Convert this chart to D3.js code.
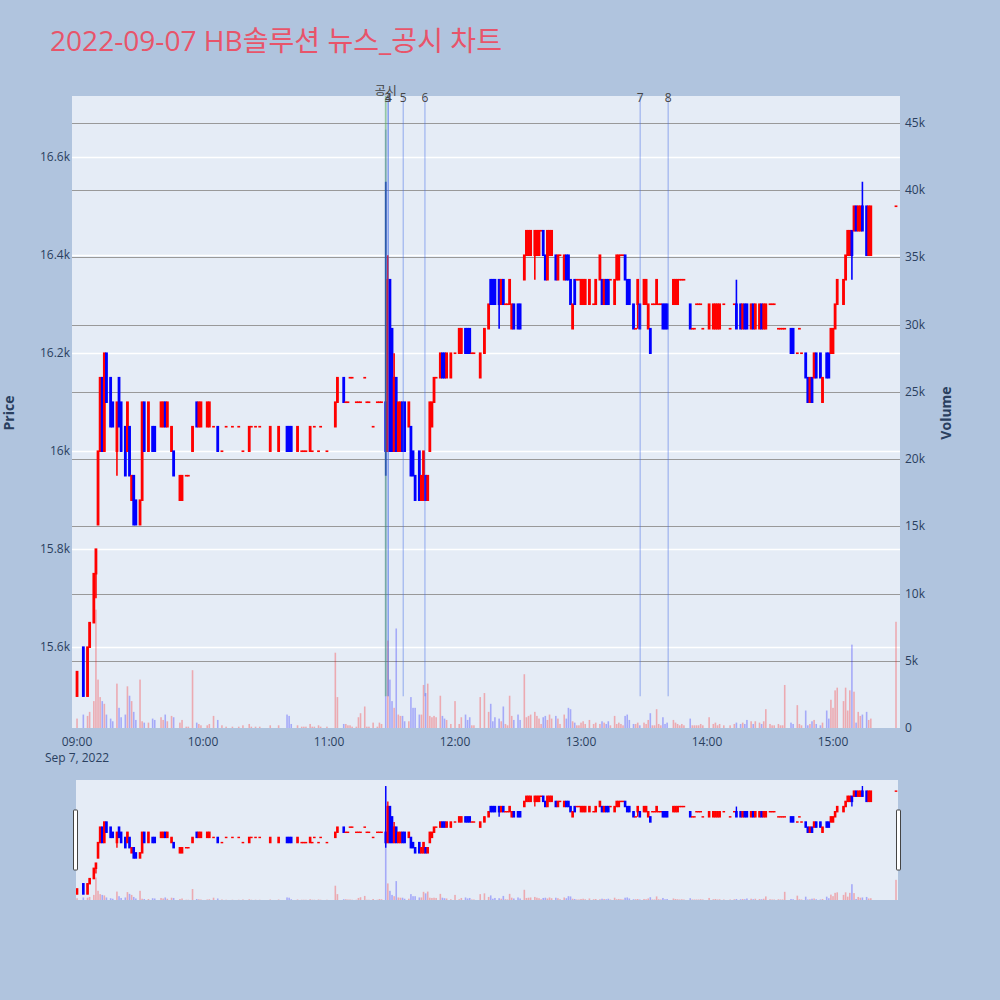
<!DOCTYPE html>
<html><head><meta charset="utf-8">
<script src="https://cdn.jsdelivr.net/npm/d3@7"></script>
<style>
html,body{margin:0;padding:0;background:#b0c4de;}
svg{display:block;font-family:"Open Sans","Noto Sans CJK KR",sans-serif;}
</style></head>
<body><svg id="c" width="1000" height="1000"></svg>
<script>
// ---------- DATA ----------
const titleText = "2022-09-07 HB솔루션 뉴스_공시 차트";
const times = ["09:00","09:03","09:05","09:06","09:08","09:09","09:10","09:11","09:12","09:13","09:14","09:16","09:17","09:19","09:20","09:21","09:23","09:24","09:25","09:26","09:27","09:28","09:30","09:31","09:32","09:34","09:36","09:37","09:40","09:41","09:42","09:43","09:45","09:46","09:49","09:50","09:52","09:53","09:55","09:57","09:58","09:59",
"10:02","10:03","10:05","10:07","10:09","10:11","10:14","10:17","10:19","10:22","10:23","10:25","10:27","10:32","10:36","10:40","10:41","10:42","10:45","10:47","10:48","10:49","10:51","10:52","10:53","10:55","10:56","10:59",
"11:03","11:04","11:07","11:08","11:09","11:10","11:11","11:13","11:14","11:15","11:17","11:18","11:19","11:21","11:23","11:24","11:25","11:27","11:28","11:29","11:30","11:31","11:32","11:33","11:34","11:35","11:36","11:38","11:39","11:40","11:41","11:43","11:44","11:45","11:46","11:47","11:48","11:49","11:50","11:51","11:53","11:54","11:55","11:56","11:58",
"12:00","12:02","12:03","12:05","12:06","12:07","12:08","12:09","12:12","12:14","12:16","12:17","12:18","12:19","12:21","12:22","12:23","12:24","12:25","12:26","12:27","12:28","12:30","12:31","12:33","12:34","12:35","12:36","12:38","12:39","12:40","12:41","12:42","12:43","12:44","12:45","12:46","12:48","12:49","12:50","12:52","12:53","12:54","12:55","12:56","12:57","12:58","12:59",
"13:00","13:01","13:02","13:04","13:06","13:07","13:09","13:10","13:11","13:12","13:13","13:14","13:16","13:17","13:18","13:19","13:20","13:21","13:22","13:23","13:25","13:26","13:27","13:28","13:30","13:31","13:32","13:33","13:34","13:35","13:36","13:37","13:38","13:39","13:40","13:41","13:44","13:45","13:46","13:47","13:48","13:49","13:52","13:53","13:54","13:55","13:56","13:57","13:58",
"14:01","14:03","14:04","14:05","14:06","14:08","14:11","14:13","14:14","14:16","14:17","14:18","14:19","14:21","14:22","14:23","14:25","14:26","14:27","14:28","14:30","14:31","14:32","14:34","14:35","14:36","14:37","14:40","14:41","14:43","14:44","14:45","14:47","14:48","14:49","14:50","14:51","14:52","14:54","14:55","14:57","14:58","14:59",
"15:00","15:01","15:02","15:05","15:06","15:07","15:08","15:09","15:10","15:11","15:12","15:13","15:14","15:16","15:17","15:18","15:30"];
const opens = [15500,15600,15500,15600,15650,15750,15850,16000,16150,16000,16200,16150,16100,16000,16150,16100,16050,16000,16050,15900,15950,15900,15850,15900,16100,16000,16050,16050,16050,16050,16100,16050,16000,16000,15900,15900,15950,15950,16000,16100,16050,16050,
16050,16050,16050,16050,16000,16050,16050,16050,16000,16000,16050,16050,16050,16000,16000,16050,16050,16050,16000,16000,16000,16000,16000,16000,16050,16000,16050,16000,
16050,16100,16150,16100,16100,16150,16150,16100,16100,16100,16150,16100,16100,16050,16100,16100,16100,16100,16000,16350,16250,16000,16150,16000,16000,16100,16100,16050,16050,16000,15950,16000,15900,15900,15950,15900,16000,16050,16100,16150,16150,16200,16200,16150,16150,
16200,16200,16200,16250,16250,16250,16200,16200,16150,16200,16250,16350,16350,16350,16350,16300,16350,16300,16300,16300,16250,16300,16300,16300,16350,16400,16400,16400,16400,16400,16400,16450,16450,16400,16350,16400,16400,16400,16350,16400,16350,16400,16400,16350,16250,16350,16350,16350,
16300,16300,16300,16300,16300,16300,16350,16350,16300,16350,16350,16350,16300,16350,16350,16400,16400,16400,16350,16350,16300,16250,16300,16300,16300,16300,16250,16250,16300,16300,16300,16300,16300,16300,16300,16300,16300,16300,16300,16350,16350,16350,16300,16250,16250,16300,16300,16300,16250,
16250,16250,16250,16250,16250,16300,16250,16300,16300,16300,16250,16300,16300,16250,16300,16250,16250,16300,16250,16250,16300,16300,16300,16250,16250,16250,16250,16250,16250,16200,16250,16200,16200,16150,16100,16150,16150,16200,16200,16100,16200,16200,16200,
16200,16250,16300,16300,16350,16400,16400,16450,16450,16500,16450,16450,16500,16500,16400,16400,16500];
const highs = [15550,15600,15600,15650,15750,15800,16000,16150,16150,16200,16200,16150,16100,16100,16150,16100,16050,16100,16050,15950,15950,15900,15900,16100,16100,16100,16050,16050,16100,16100,16100,16100,16050,16000,15950,15950,15950,15950,16050,16100,16100,16100,
16100,16100,16050,16050,16000,16050,16050,16050,16000,16050,16050,16050,16050,16050,16050,16050,16050,16050,16050,16000,16000,16000,16050,16000,16050,16000,16050,16000,
16100,16150,16150,16100,16100,16150,16150,16100,16100,16100,16150,16100,16100,16050,16100,16100,16100,16550,16400,16350,16250,16200,16150,16100,16100,16100,16100,16100,16050,16000,15950,16000,15950,16000,15950,15950,16100,16100,16150,16150,16200,16200,16200,16200,16200,
16200,16250,16250,16250,16250,16250,16200,16200,16200,16250,16300,16350,16350,16350,16350,16350,16350,16300,16300,16350,16300,16300,16300,16300,16400,16450,16450,16450,16450,16450,16450,16450,16450,16400,16450,16450,16450,16400,16400,16400,16400,16400,16400,16350,16300,16350,16350,16350,
16350,16350,16350,16350,16300,16350,16400,16350,16350,16350,16350,16350,16350,16400,16400,16400,16400,16400,16350,16350,16300,16250,16350,16300,16350,16350,16300,16250,16300,16300,16350,16300,16300,16300,16300,16300,16350,16350,16350,16350,16350,16350,16300,16250,16250,16300,16300,16300,16250,
16300,16300,16300,16300,16300,16300,16250,16300,16350,16300,16300,16300,16300,16300,16300,16300,16300,16300,16300,16300,16300,16300,16300,16250,16250,16250,16250,16250,16250,16200,16250,16200,16200,16150,16150,16150,16200,16200,16200,16150,16200,16200,16250,
16250,16300,16350,16350,16400,16450,16450,16450,16500,16500,16500,16500,16550,16500,16500,16500,16500];
const lows = [15500,15500,15500,15600,15650,15700,15850,16000,16000,16000,16100,16050,16050,15950,16050,16000,15950,16000,15950,15900,15850,15850,15850,15900,16000,16000,16000,16000,16050,16050,16050,16050,16000,15950,15900,15900,15950,15950,16000,16050,16050,16050,
16050,16050,16050,16000,16000,16050,16050,16050,16000,16000,16050,16050,16050,16000,16000,16000,16000,16000,16000,16000,16000,16000,16000,16000,16050,16000,16050,16000,
16050,16100,16100,16100,16100,16150,16150,16100,16100,16100,16150,16100,16100,16050,16100,16100,16100,15950,16000,16000,16000,16000,16000,16000,16000,16000,16000,16050,15950,15950,15900,15900,15900,15900,15900,15900,16000,16050,16100,16150,16150,16150,16150,16150,16150,
16200,16200,16200,16200,16200,16200,16200,16200,16150,16200,16250,16300,16300,16300,16250,16300,16300,16300,16300,16300,16250,16250,16250,16250,16350,16400,16400,16400,16350,16400,16400,16450,16400,16350,16350,16400,16400,16350,16350,16400,16350,16350,16350,16300,16250,16300,16350,16350,
16300,16300,16300,16300,16300,16300,16350,16300,16300,16300,16300,16350,16300,16350,16350,16400,16400,16350,16300,16300,16250,16250,16250,16250,16300,16300,16250,16200,16300,16300,16300,16300,16300,16250,16250,16250,16300,16300,16300,16350,16350,16350,16250,16250,16250,16300,16300,16300,16250,
16250,16250,16250,16250,16250,16300,16250,16300,16250,16250,16250,16250,16250,16250,16250,16250,16250,16250,16250,16250,16300,16300,16300,16250,16250,16250,16250,16200,16200,16200,16250,16200,16150,16100,16100,16100,16150,16150,16150,16100,16150,16150,16200,
16200,16250,16300,16300,16350,16400,16400,16350,16450,16450,16450,16450,16450,16400,16400,16400,16500];
const closes = [15550,15500,15600,15650,15750,15800,16000,16150,16000,16200,16100,16050,16050,16100,16050,16000,15950,16100,15950,15950,15850,15850,15900,16100,16000,16100,16000,16000,16100,16100,16050,16100,16050,15950,15950,15950,15950,15950,16050,16050,16100,16100,
16100,16100,16050,16000,16000,16050,16050,16050,16000,16050,16050,16050,16050,16050,16050,16000,16000,16000,16050,16000,16000,16000,16050,16000,16050,16000,16050,16000,
16100,16150,16100,16100,16100,16150,16150,16100,16100,16100,16150,16100,16100,16050,16100,16100,16100,16000,16350,16000,16000,16150,16000,16100,16100,16000,16000,16100,15950,15950,15900,15900,15950,16000,15900,15950,16100,16100,16150,16150,16200,16150,16150,16200,16200,
16200,16250,16250,16200,16200,16200,16200,16200,16200,16250,16300,16300,16300,16300,16300,16350,16300,16300,16300,16350,16300,16250,16250,16250,16400,16450,16450,16450,16450,16450,16450,16450,16400,16350,16450,16450,16450,16350,16400,16400,16400,16350,16350,16300,16300,16300,16350,16350,
16350,16350,16350,16350,16300,16350,16400,16300,16350,16300,16300,16350,16350,16400,16400,16400,16400,16350,16300,16300,16250,16250,16350,16250,16350,16350,16300,16200,16300,16300,16350,16300,16300,16250,16250,16250,16350,16350,16350,16350,16350,16350,16250,16250,16250,16300,16300,16300,16250,
16300,16300,16300,16300,16300,16300,16250,16300,16250,16250,16300,16250,16250,16300,16250,16300,16300,16250,16300,16300,16300,16300,16300,16250,16250,16250,16250,16200,16200,16200,16250,16200,16150,16100,16150,16100,16200,16150,16150,16150,16150,16150,16250,
16250,16300,16350,16350,16400,16450,16450,16400,16500,16450,16500,16500,16450,16400,16500,16500,16500];
const volumes = [700,1000,900,1200,2000,8800,3600,2300,2000,1800,1000,700,500,3300,1500,800,1000,3100,2400,2000,1200,600,3600,500,400,400,700,600,800,600,1000,500,900,800,400,600,100,100,4300,400,300,200,
200,300,900,600,200,100,100,100,200,300,100,100,100,200,200,1000,900,300,200,100,100,100,300,100,100,200,100,100,
5600,2300,300,300,200,200,100,100,800,1100,1600,100,100,400,100,400,300,44500,6500,3600,2000,1500,7400,1000,900,900,500,500,2300,1500,1500,1000,1000,3200,2600,3300,900,800,900,800,2400,900,700,600,300,
2000,300,800,1000,600,800,200,200,2300,2600,1200,1800,500,800,700,500,1600,300,200,2400,900,600,1000,600,4000,800,900,1000,1200,900,700,300,800,900,600,1000,700,900,700,300,1000,700,1500,1400,500,400,200,200,
400,500,300,600,300,400,300,500,400,300,500,200,900,300,400,300,200,900,1000,600,300,300,400,200,400,300,600,1100,200,200,1400,300,200,800,300,400,600,400,300,200,300,200,700,200,200,200,200,300,200,
800,300,400,200,300,200,200,300,400,300,400,300,600,500,300,500,400,300,500,1400,300,200,200,300,200,200,3200,400,300,1700,300,200,1300,200,300,500,600,300,200,400,1300,700,2100,
1500,2800,3000,2000,3000,1300,2800,6200,2700,400,1200,900,1000,1200,600,700,7900];

const priceTicks = [15600,15800,16000,16200,16400,16600];
const volumeTicks = [0,5000,10000,15000,20000,25000,30000,35000,40000,45000];
const newsLabels = ["공시","4","3","5","6","7","8"];
const newsTimes = ["11:27:00","11:28:15","11:28:05","11:35:20","11:45:40","13:28:10","13:41:30"];

// ---------- BUILD ----------
function toDate(s){const p=s.split(":").map(Number);return new Date(2022,8,7,p[0],p[1],p[2]||0);}
const rows = times.map((t,i)=>({t:toDate(t),o:opens[i],h:highs[i],l:lows[i],c:closes[i],v:volumes[i]}));

const svg = d3.select("#c");
const W=1000,H=1000;
svg.append("rect").attr("width",W).attr("height",H).attr("fill","#b0c4de");

const L=72,R=900,T=96,B=728;
const x = d3.scaleTime().domain([new Date(2022,8,7,8,57,36), new Date(2022,8,7,15,31,54)]).range([L,R]);
const yP = d3.scaleLinear().domain([15435,16725]).range([B,T]);
const yV = d3.scaleLinear().domain([0,47000]).range([B,T]);
const txt="#2a3f5f";
const INC="#ff0000", DEC="#0000ff";

// title
svg.append("text").attr("x",50).attr("y",51).attr("font-size",28).attr("fill","#e8546a")
  .attr("textLength",452).attr("lengthAdjust","spacingAndGlyphs")
  .attr("font-family","'Open Sans','Noto Sans CJK KR',sans-serif").text(titleText);

// plot bg
svg.append("rect").attr("x",L).attr("y",T).attr("width",R-L).attr("height",B-T).attr("fill","#e5ecf6");

// grid
const g = svg.append("g");
g.selectAll(".gp").data(priceTicks).join("line").attr("x1",L).attr("x2",R)
  .attr("y1",d=>Math.round(yP(d))+0.5).attr("y2",d=>Math.round(yP(d))+0.5).attr("stroke","#fff").attr("stroke-width",1.5);
g.selectAll(".gv").data(volumeTicks.slice(1)).join("line").attr("x1",L).attr("x2",R)
  .attr("y1",d=>Math.round(yV(d))+0.5).attr("y2",d=>Math.round(yV(d))+0.5).attr("stroke","#999").attr("stroke-width",1.2);

const clipId="clipMain";
svg.append("clipPath").attr("id",clipId).append("rect").attr("x",L).attr("y",T).attr("width",R-L).attr("height",B-T);
const plot = svg.append("g").attr("clip-path",`url(#${clipId})`);

function drawCandles(gr, xs, ys, yv, bw){
  gr.selectAll(".vb").data(rows).join("rect")
    .attr("x",d=>xs(d.t)-0.8).attr("width",1.6)
    .attr("y",d=>yv(d.v)).attr("height",d=>yv(0)-yv(d.v))
    .attr("fill",d=>d.c>=d.o?INC:DEC).attr("opacity",0.28);
  const cg = gr.selectAll(".cd").data(rows).join("g");
  cg.append("line").attr("x1",d=>xs(d.t)).attr("x2",d=>xs(d.t))
    .attr("y1",d=>ys(d.h)).attr("y2",d=>ys(d.l))
    .attr("stroke",d=>d.c>=d.o?INC:DEC).attr("stroke-width",bw.w);
  cg.append("rect").attr("x",d=>xs(d.t)-bw.b/2).attr("width",bw.b)
    .attr("y",d=>ys(Math.max(d.o,d.c))).attr("height",d=>Math.max(0.05,ys(Math.min(d.o,d.c))-ys(Math.max(d.o,d.c))))
    .attr("fill",d=>d.c>=d.o?INC:DEC)
    .attr("stroke",d=>d.c>=d.o?INC:DEC).attr("stroke-width",bw.s);
}
drawCandles(plot, x, yP, yV, {w:1.6,b:1.2,s:1.6});

// news lines
const news = newsLabels.map((l,i)=>({l, t:toDate(newsTimes[i])}));
svg.selectAll(".nl").data(news).join("line")
  .attr("x1",d=>x(d.t)).attr("x2",d=>x(d.t)).attr("y1",T).attr("y2",yP(15500))
  .attr("stroke",d=>d.l==="공시"?"rgba(80,170,100,0.55)":"rgba(70,110,230,0.45)")
  .attr("stroke-width",d=>d.l==="공시"?1.8:1.2);
svg.selectAll(".nt").data(news).join("text")
  .attr("x",d=>x(d.t)).attr("y",d=>d.l==="공시"?95:102).attr("text-anchor","middle")
  .attr("font-size",12).attr("fill","#444")
  .text(d=>d.l);

// axes labels
svg.selectAll(".pt").data(priceTicks).join("text").attr("x",70).attr("y",d=>yP(d)+4)
  .attr("text-anchor","end").attr("font-size",12).attr("fill",txt).text(d=>d3.format("~s")(d));
svg.selectAll(".vt").data(volumeTicks).join("text").attr("x",905).attr("y",d=>yV(d)+4)
  .attr("text-anchor","start").attr("font-size",12).attr("fill",txt).text(d=>d===0?"0":d3.format("~s")(d));
const hours = x.ticks(d3.timeHour.every(1)).filter(d=>d>=x.domain()[0]);
svg.selectAll(".xt").data(hours).join("text").attr("x",d=>x(d)).attr("y",746)
  .attr("text-anchor","middle").attr("font-size",12).attr("fill",txt).text(d3.timeFormat("%H:%M"));
svg.append("text").attr("x",x(new Date(2022,8,7,9,0))).attr("y",762).attr("text-anchor","middle")
  .attr("font-size",12).attr("fill",txt).text("Sep 7, 2022");
svg.append("text").attr("transform","translate(14,413) rotate(-90)").attr("text-anchor","middle")
  .attr("font-size",14).attr("font-weight","bold").attr("fill",txt).text("Price");
svg.append("text").attr("transform","translate(951,413) rotate(-90)").attr("text-anchor","middle")
  .attr("font-size",14).attr("font-weight","bold").attr("fill",txt).text("Volume");

// range slider
const sT=780,sB=900;
svg.append("rect").attr("x",76).attr("y",sT).attr("width",822).attr("height",sB-sT).attr("fill","#e5ecf6");
const ysP = d3.scaleLinear().domain([15442,16608]).range([sB,sT]);
const ysV = d3.scaleLinear().domain([0,47000]).range([sB,sT]);
svg.append("clipPath").attr("id","clipS").append("rect").attr("x",76).attr("y",sT).attr("width",822).attr("height",sB-sT);
const sl = svg.append("g").attr("clip-path","url(#clipS)");
drawCandles(sl, x, ysP, ysV, {w:1.4,b:1.2,s:1.4});
[[73.5,810],[896.5,810]].forEach(([hx,hy])=>{
  svg.append("rect").attr("x",hx).attr("y",hy).attr("width",4).attr("height",60)
    .attr("fill","#fff").attr("stroke","#444").attr("stroke-width",1).attr("rx",0.5);
});
</script></body></html>
